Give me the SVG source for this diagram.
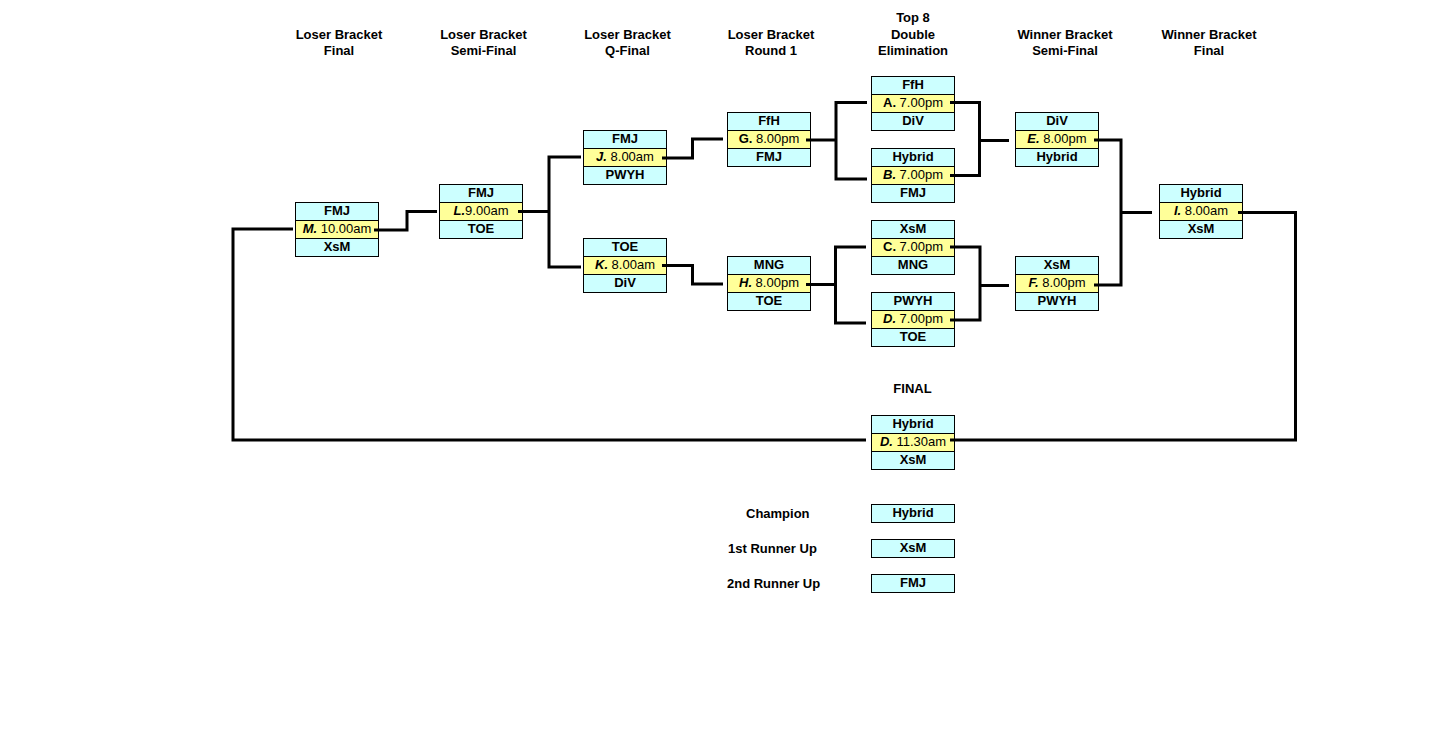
<svg xmlns="http://www.w3.org/2000/svg" width="1448" height="737" viewBox="0 0 1448 737">
<style>
text{font-family:"Liberation Sans",Arial,sans-serif;font-size:13px;fill:#000}
.h{font-weight:bold;text-anchor:middle}
.lb{font-weight:bold}
.n{font-weight:bold;text-anchor:middle}
.t{text-anchor:middle}
.t tspan{font-weight:bold;font-style:italic}
.t.u tspan{font-style:normal}
.c{fill:#CCFFFF;stroke:#000;stroke-width:1}
.y{fill:#FFFF99;stroke:#000;stroke-width:1}
.ln{fill:none;stroke:#000;stroke-width:3;stroke-linejoin:miter;stroke-linecap:butt}
</style>
<rect width="1448" height="737" fill="#fff"/>
<g id="headers">
<text class="h" x="339" y="38.5">Loser Bracket</text><text class="h" x="339" y="55">Final</text>
<text class="h" x="483.5" y="38.5">Loser Bracket</text><text class="h" x="483.5" y="55">Semi-Final</text>
<text class="h" x="627.5" y="38.5">Loser Bracket</text><text class="h" x="627.5" y="55">Q-Final</text>
<text class="h" x="771" y="38.5">Loser Bracket</text><text class="h" x="771" y="55">Round 1</text>
<text class="h" x="913" y="22">Top 8</text><text class="h" x="913" y="38.5">Double</text><text class="h" x="913" y="55">Elimination</text>
<text class="h" x="1065" y="38.5">Winner Bracket</text><text class="h" x="1065" y="55">Semi-Final</text>
<text class="h" x="1209" y="38.5">Winner Bracket</text><text class="h" x="1209" y="55">Final</text>
<text class="h" x="912.5" y="393">FINAL</text>
</g>
<g id="node-M"><rect class="c" x="295.5" y="202.5" width="83" height="18"/><rect class="y" x="295.5" y="220.5" width="83" height="18"/><rect class="c" x="295.5" y="238.5" width="83" height="18"/>
<text class="n" x="337" y="215">FMJ</text><text class="t" x="337" y="233"><tspan>M.</tspan> 10.00am</text><text class="n" x="337" y="251">XsM</text></g>
<g id="node-L"><rect class="c" x="439.5" y="184.5" width="83" height="18"/><rect class="y" x="439.5" y="202.5" width="83" height="18"/><rect class="c" x="439.5" y="220.5" width="83" height="18"/>
<text class="n" x="481" y="197">FMJ</text><text class="t" x="481" y="215"><tspan>L.</tspan>9.00am</text><text class="n" x="481" y="233">TOE</text></g>
<g id="node-J"><rect class="c" x="583.5" y="130.5" width="83" height="18"/><rect class="y" x="583.5" y="148.5" width="83" height="18"/><rect class="c" x="583.5" y="166.5" width="83" height="18"/>
<text class="n" x="625" y="143">FMJ</text><text class="t" x="625" y="161"><tspan>J.</tspan> 8.00am</text><text class="n" x="625" y="179">PWYH</text></g>
<g id="node-K"><rect class="c" x="583.5" y="238.5" width="83" height="18"/><rect class="y" x="583.5" y="256.5" width="83" height="18"/><rect class="c" x="583.5" y="274.5" width="83" height="18"/>
<text class="n" x="625" y="251">TOE</text><text class="t" x="625" y="269"><tspan>K.</tspan> 8.00am</text><text class="n" x="625" y="287">DiV</text></g>
<g id="node-G"><rect class="c" x="727.5" y="112.5" width="83" height="18"/><rect class="y" x="727.5" y="130.5" width="83" height="18"/><rect class="c" x="727.5" y="148.5" width="83" height="18"/>
<text class="n" x="769" y="125">FfH</text><text class="t u" x="769" y="143"><tspan>G.</tspan> 8.00pm</text><text class="n" x="769" y="161">FMJ</text></g>
<g id="node-H"><rect class="c" x="727.5" y="256.5" width="83" height="18"/><rect class="y" x="727.5" y="274.5" width="83" height="18"/><rect class="c" x="727.5" y="292.5" width="83" height="18"/>
<text class="n" x="769" y="269">MNG</text><text class="t" x="769" y="287"><tspan>H.</tspan> 8.00pm</text><text class="n" x="769" y="305">TOE</text></g>
<g id="node-A"><rect class="c" x="871.5" y="76.5" width="83" height="18"/><rect class="y" x="871.5" y="94.5" width="83" height="18"/><rect class="c" x="871.5" y="112.5" width="83" height="18"/>
<text class="n" x="913" y="89">FfH</text><text class="t u" x="913" y="107"><tspan>A.</tspan> 7.00pm</text><text class="n" x="913" y="125">DiV</text></g>
<g id="node-B"><rect class="c" x="871.5" y="148.5" width="83" height="18"/><rect class="y" x="871.5" y="166.5" width="83" height="18"/><rect class="c" x="871.5" y="184.5" width="83" height="18"/>
<text class="n" x="913" y="161">Hybrid</text><text class="t" x="913" y="179"><tspan>B.</tspan> 7.00pm</text><text class="n" x="913" y="197">FMJ</text></g>
<g id="node-C"><rect class="c" x="871.5" y="220.5" width="83" height="18"/><rect class="y" x="871.5" y="238.5" width="83" height="18"/><rect class="c" x="871.5" y="256.5" width="83" height="18"/>
<text class="n" x="913" y="233">XsM</text><text class="t u" x="913" y="251"><tspan>C.</tspan> 7.00pm</text><text class="n" x="913" y="269">MNG</text></g>
<g id="node-D"><rect class="c" x="871.5" y="292.5" width="83" height="18"/><rect class="y" x="871.5" y="310.5" width="83" height="18"/><rect class="c" x="871.5" y="328.5" width="83" height="18"/>
<text class="n" x="913" y="305">PWYH</text><text class="t" x="913" y="323"><tspan>D.</tspan> 7.00pm</text><text class="n" x="913" y="341">TOE</text></g>
<g id="node-E"><rect class="c" x="1015.5" y="112.5" width="83" height="18"/><rect class="y" x="1015.5" y="130.5" width="83" height="18"/><rect class="c" x="1015.5" y="148.5" width="83" height="18"/>
<text class="n" x="1057" y="125">DiV</text><text class="t" x="1057" y="143"><tspan>E.</tspan> 8.00pm</text><text class="n" x="1057" y="161">Hybrid</text></g>
<g id="node-F"><rect class="c" x="1015.5" y="256.5" width="83" height="18"/><rect class="y" x="1015.5" y="274.5" width="83" height="18"/><rect class="c" x="1015.5" y="292.5" width="83" height="18"/>
<text class="n" x="1057" y="269">XsM</text><text class="t" x="1057" y="287"><tspan>F.</tspan> 8.00pm</text><text class="n" x="1057" y="305">PWYH</text></g>
<g id="node-I"><rect class="c" x="1159.5" y="184.5" width="83" height="18"/><rect class="y" x="1159.5" y="202.5" width="83" height="18"/><rect class="c" x="1159.5" y="220.5" width="83" height="18"/>
<text class="n" x="1201" y="197">Hybrid</text><text class="t" x="1201" y="215"><tspan>I.</tspan> 8.00am</text><text class="n" x="1201" y="233">XsM</text></g>
<g id="node-final"><rect class="c" x="871.5" y="415.5" width="83" height="18"/><rect class="y" x="871.5" y="433.5" width="83" height="18"/><rect class="c" x="871.5" y="451.5" width="83" height="18"/>
<text class="n" x="913" y="428">Hybrid</text><text class="t" x="913" y="446"><tspan>D.</tspan> 11.30am</text><text class="n" x="913" y="464">XsM</text></g>
<g id="node-champion"><text class="lb" x="746" y="518">Champion</text><rect class="c" x="871.5" y="504.5" width="83" height="18"/><text class="n" x="913" y="517">Hybrid</text></g>
<g id="node-runner1"><text class="lb" x="728" y="553">1st Runner Up</text><rect class="c" x="871.5" y="539.5" width="83" height="18"/><text class="n" x="913" y="552">XsM</text></g>
<g id="node-runner2"><text class="lb" x="727" y="588">2nd Runner Up</text><rect class="c" x="871.5" y="574.5" width="83" height="18"/><text class="n" x="913" y="587">FMJ</text></g>
<g id="connectors">
<path class="ln" d="M293 229H233V440H866"/>
<path class="ln" d="M374 230H407V211.5H437"/>
<path class="ln" d="M518 211.5H549"/>
<path class="ln" d="M581 157H549V267H581"/>
<path class="ln" d="M662 158H692.5V139H723"/>
<path class="ln" d="M662 265.5H692.5V284H723"/>
<path class="ln" d="M806 140H836"/>
<path class="ln" d="M867 102.5H836V179H867"/>
<path class="ln" d="M806 284.5H835.5"/>
<path class="ln" d="M866 247H835.5V323H866"/>
<path class="ln" d="M950 102.5H979.5V175.5H950"/>
<path class="ln" d="M979.5 140.5H1009"/>
<path class="ln" d="M950 247H980V320H950"/>
<path class="ln" d="M980 285.5H1009"/>
<path class="ln" d="M1094 140H1121V285H1094"/>
<path class="ln" d="M1121 212.5H1152"/>
<path class="ln" d="M1238 212.5H1295.5V440H950"/>
</g>
</svg>
